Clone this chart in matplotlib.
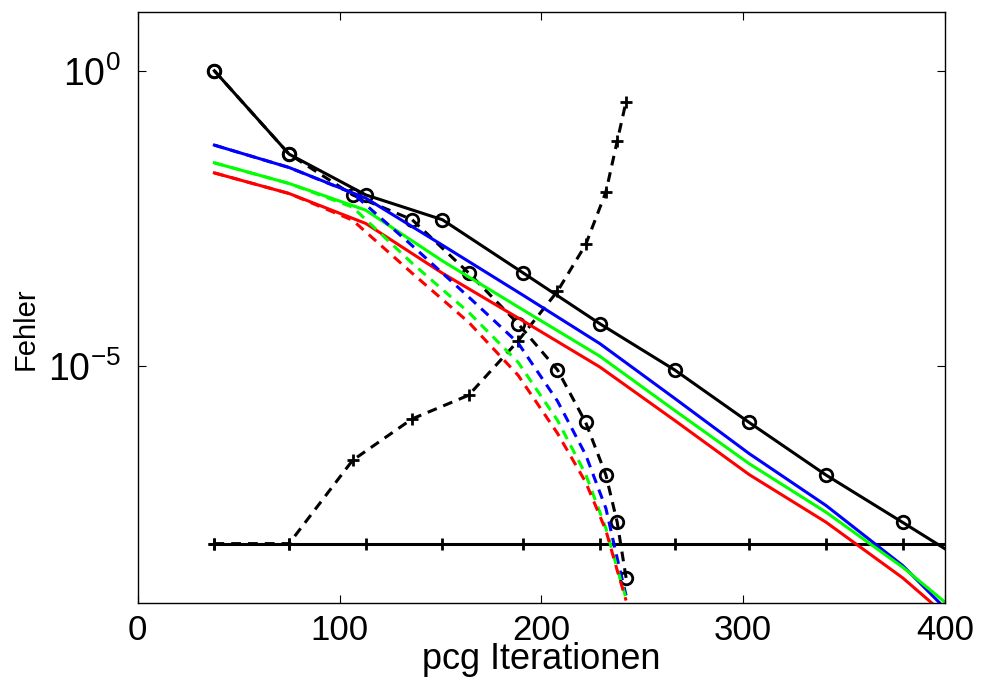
import numpy as np
import matplotlib
matplotlib.use("Agg")
import matplotlib.pyplot as plt

plt.rcParams['font.family'] = ['Liberation Sans', 'DejaVu Sans']
plt.rcParams['mathtext.fontset'] = 'custom'
plt.rcParams['mathtext.rm'] = 'Liberation Sans'
plt.rcParams['mathtext.it'] = 'Liberation Sans'
plt.rcParams['mathtext.bf'] = 'Liberation Sans'

# iteration counts (solid curves / dashed curves)
it_solid = [38, 75, 113, 151, 191, 229, 266, 303, 341, 379, 417]
it_dash = [38, 75, 106.5, 136, 164, 188.5, 208, 222, 232, 237.6, 242]

# black reference curves
err_ref = [1.0, 3.89e-2, 7.94e-3, 3.02e-3, 3.80e-4, 5.25e-5, 8.71e-6,
           1.12e-6, 1.45e-7, 2.29e-8, 3.55e-9]
err_ref_dash = [1.0, 3.89e-2, 7.94e-3, 3.02e-3, 3.80e-4, 5.25e-5, 8.71e-6,
                1.12e-6, 1.45e-7, 2.29e-8, 2.63e-9]
err_plus_dash = [1e-8, 1e-8, 2.57e-7, 1.29e-6, 3.24e-6, 2.69e-5, 1.86e-4,
                 1.15e-3, 8.91e-3, 6.46e-2, 0.302]
err_tol = [1e-8] * 11

# coloured curves, solid
err_blue = [5.52e-2, 2.31e-2, 7.00e-3, 1.12e-3, 1.59e-4, 2.42e-5, 2.88e-6,
            3.33e-7, 4.43e-8, 4.27e-9, 2.09e-10]
err_green = [2.77e-2, 1.24e-2, 4.38e-3, 6.07e-4, 8.97e-5, 1.48e-5, 1.80e-6,
             2.25e-7, 3.41e-8, 4.00e-9, 3.39e-10]
err_red = [1.87e-2, 8.39e-3, 2.61e-3, 3.76e-4, 5.85e-5, 9.73e-6, 1.22e-6,
           1.47e-7, 2.31e-8, 2.64e-9, 2.0e-10]

# coloured curves, dashed
err_blue_d = [5.52e-2, 2.31e-2, 8.49e-3, 1.10e-3, 1.49e-4, 2.48e-5, 2.58e-6,
              3.17e-7, 3.94e-8, 5.61e-9, 1.33e-9]
err_green_d = [2.77e-2, 1.24e-2, 4.92e-3, 5.55e-4, 8.20e-5, 1.17e-5, 1.22e-6,
               1.48e-7, 1.81e-8, 3.80e-9, 1.18e-9]
err_red_d = [1.87e-2, 8.39e-3, 2.96e-3, 3.76e-4, 5.56e-5, 7.05e-6, 7.35e-7,
             1.09e-7, 1.67e-8, 3.52e-9, 1.09e-9]

fig = plt.figure(figsize=(9.82, 6.86), dpi=100)
ax = fig.add_axes([0.1402, 0.1214, 0.8221, 0.8616])

lw = 2.2
dash = (3.2, 2.3)
mk = dict(markersize=9, markeredgewidth=2.0)

ax.semilogy(it_solid, err_ref, 'k-o', mfc='none', lw=lw, **mk)
ax.semilogy(it_dash, err_ref_dash, 'k--o', mfc='none', lw=lw, dashes=dash, **mk)
ax.semilogy(it_dash, err_plus_dash, 'k--+', lw=lw, dashes=dash, **mk)
ax.semilogy(it_solid, err_tol, 'k-+', lw=lw, **mk)

ax.semilogy(it_solid, err_blue, color='b', lw=lw)
ax.semilogy(it_solid, err_green, color='#00ff00', lw=lw)
ax.semilogy(it_solid, err_red, color='r', lw=lw)
ax.semilogy(it_dash, err_blue_d, color='b', lw=lw, ls='--', dashes=dash)
ax.semilogy(it_dash, err_green_d, color='#00ff00', lw=lw, ls='--', dashes=dash)
ax.semilogy(it_dash, err_red_d, color='r', lw=lw, ls='--', dashes=dash)

ax.set_xlim(0, 400)
ax.set_ylim(1e-9, 1e1)
ax.set_xticks([0, 100, 200, 300, 400])
ax.set_yticks([1e-5, 1e0])
ax.minorticks_off()
ax.tick_params(direction='in', top=True, right=True, length=6, width=0.8,
               pad=8)
ax.tick_params(axis='x', labelsize=25)
ax.tick_params(axis='y', labelsize=27, pad=12)
for s in ax.spines.values():
    s.set_linewidth(1.0)

ax.set_xlabel("pcg Iterationen", fontsize=26)
ax.set_ylabel("Fehler", fontsize=21)
ax.xaxis.set_label_coords(0.5, -0.066)
ax.yaxis.set_label_coords(-0.121, 0.463)

fig.savefig("out.png", dpi=100)
